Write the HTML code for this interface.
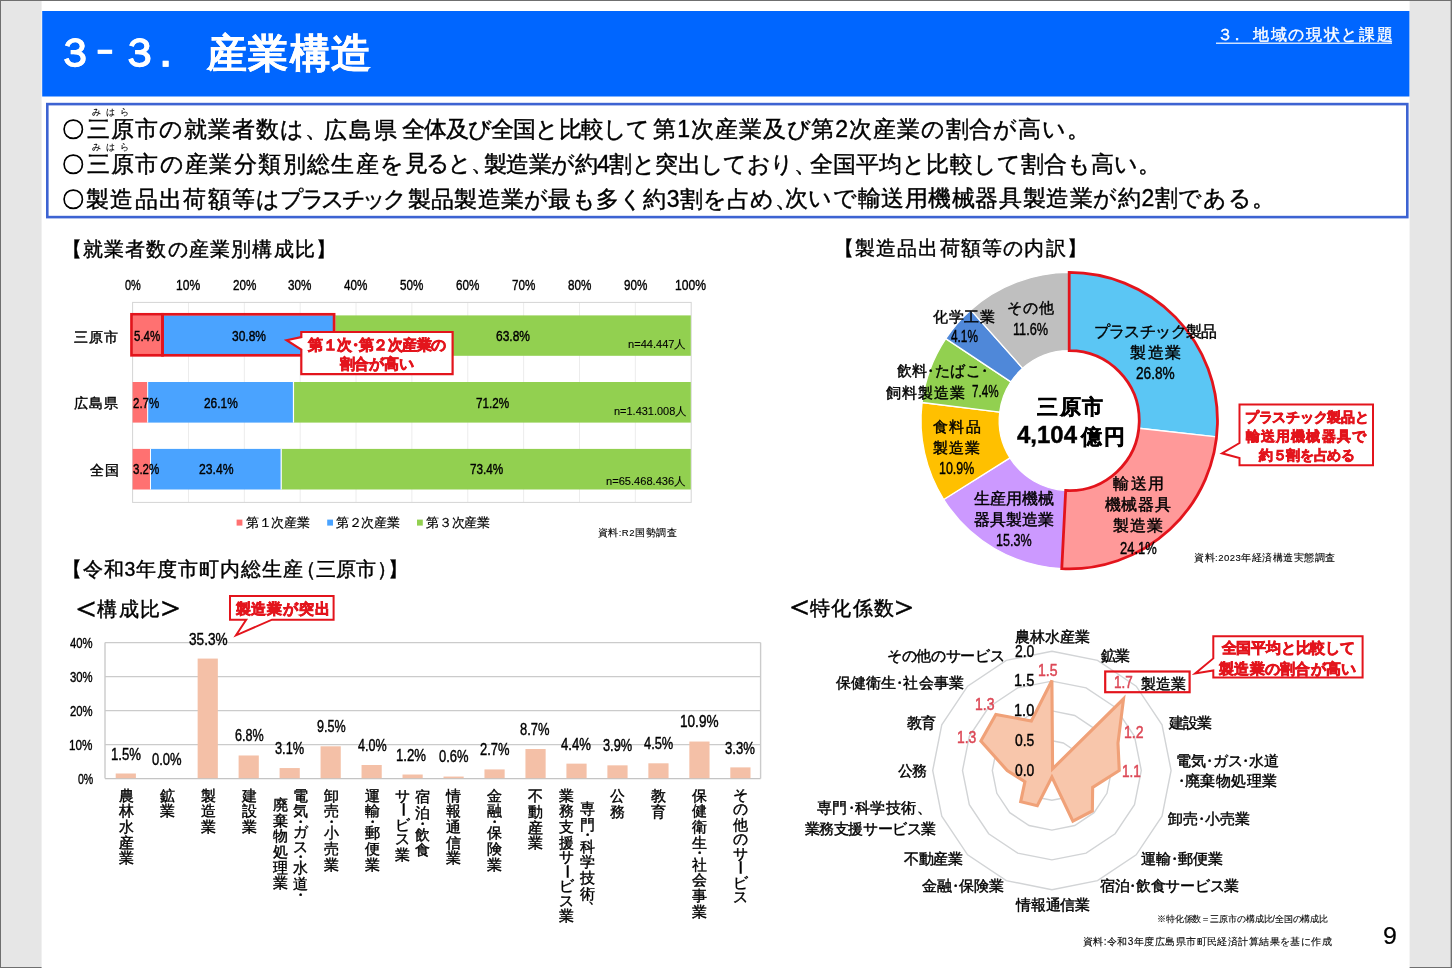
<!DOCTYPE html>
<html lang="ja"><head><meta charset="utf-8"><title>3-3. 産業構造</title>
<style>
html,body{margin:0;padding:0}
body{width:1452px;height:968px;overflow:hidden;background:#e6e6e6;position:relative;font-family:"Liberation Sans",sans-serif;color:#000}
#page{position:absolute;left:0;top:0;width:1452px;height:968px;overflow:hidden;will-change:transform}
svg{position:absolute;left:0;top:0}
.t{position:absolute;line-height:1;white-space:nowrap;transform-origin:0 0}
.v{position:absolute;text-align:center;line-height:1;-webkit-text-stroke:0.4px}
.v span{display:block;white-space:nowrap}
</style></head>
<body><div id="page">
<svg width="1452" height="968" viewBox="0 0 1452 968">
<rect x="0.00" y="0.00" width="1452.00" height="968.00" fill="#e6e6e6"/>
<rect x="0.00" y="0.00" width="1452.00" height="1.00" fill="#6f6f6f"/>
<rect x="0.00" y="0.00" width="1.00" height="968.00" fill="#6f6f6f"/>
<rect x="1450.60" y="0.00" width="1.40" height="968.00" fill="#6f6f6f"/>
<rect x="0.00" y="967.00" width="1452.00" height="1.00" fill="#6f6f6f"/>
<rect x="41.60" y="1.00" width="1368.00" height="967.00" fill="#ffffff"/>
<rect x="42.20" y="11.00" width="1367.20" height="85.50" fill="#0066ff"/>
<rect x="1216.00" y="42.60" width="176.00" height="1.20" fill="#ffffff"/>
<rect x="47.30" y="104.10" width="1360.00" height="113.00" fill="#ffffff" stroke="#3d63d2" stroke-width="2.6"/>
<line x1="188.46" y1="302.40" x2="188.46" y2="502.40" stroke="#ececec" stroke-width="1"/>
<line x1="244.32" y1="302.40" x2="244.32" y2="502.40" stroke="#ececec" stroke-width="1"/>
<line x1="300.18" y1="302.40" x2="300.18" y2="502.40" stroke="#ececec" stroke-width="1"/>
<line x1="356.04" y1="302.40" x2="356.04" y2="502.40" stroke="#ececec" stroke-width="1"/>
<line x1="411.90" y1="302.40" x2="411.90" y2="502.40" stroke="#ececec" stroke-width="1"/>
<line x1="467.76" y1="302.40" x2="467.76" y2="502.40" stroke="#ececec" stroke-width="1"/>
<line x1="523.62" y1="302.40" x2="523.62" y2="502.40" stroke="#ececec" stroke-width="1"/>
<line x1="579.48" y1="302.40" x2="579.48" y2="502.40" stroke="#ececec" stroke-width="1"/>
<line x1="635.34" y1="302.40" x2="635.34" y2="502.40" stroke="#ececec" stroke-width="1"/>
<rect x="132.60" y="302.40" width="558.60" height="200.00" fill="none" stroke="#d4d4d4" stroke-width="1"/>
<rect x="132.60" y="315.40" width="30.16" height="40.40" fill="#ff7171"/>
<rect x="162.76" y="315.40" width="172.05" height="40.40" fill="#4aa3ff"/>
<rect x="334.81" y="315.40" width="355.99" height="40.40" fill="#92d050"/>
<line x1="162.76" y1="315.40" x2="162.76" y2="355.80" stroke="#ffffff" stroke-width="1"/>
<line x1="334.81" y1="315.40" x2="334.81" y2="355.80" stroke="#ffffff" stroke-width="1.2"/>
<rect x="132.60" y="382.00" width="15.08" height="40.60" fill="#ff7171"/>
<rect x="147.68" y="382.00" width="145.79" height="40.60" fill="#4aa3ff"/>
<rect x="293.48" y="382.00" width="397.32" height="40.60" fill="#92d050"/>
<line x1="147.68" y1="382.00" x2="147.68" y2="422.60" stroke="#ffffff" stroke-width="1"/>
<line x1="293.48" y1="382.00" x2="293.48" y2="422.60" stroke="#ffffff" stroke-width="1.2"/>
<rect x="132.60" y="448.90" width="17.88" height="40.60" fill="#ff7171"/>
<rect x="150.48" y="448.90" width="130.71" height="40.60" fill="#4aa3ff"/>
<rect x="281.19" y="448.90" width="409.61" height="40.60" fill="#92d050"/>
<line x1="150.48" y1="448.90" x2="150.48" y2="489.50" stroke="#ffffff" stroke-width="1"/>
<line x1="281.19" y1="448.90" x2="281.19" y2="489.50" stroke="#ffffff" stroke-width="1.2"/>
<rect x="131.50" y="314.30" width="31.00" height="41.00" fill="none" stroke="#e3141c" stroke-width="2.7"/>
<rect x="162.50" y="314.30" width="171.60" height="41.00" fill="none" stroke="#e3141c" stroke-width="2.7"/>
<path d="M301.3 332.0 H452.6 V374.2 H301.3 V349.5 L286.6 340.3 L301.3 337 Z" fill="#ffffff" stroke="#e3141c" stroke-width="2.2" stroke-linejoin="miter"/>
<rect x="236.60" y="519.60" width="5.80" height="6.00" fill="#ff7171"/>
<rect x="327.20" y="519.60" width="5.80" height="6.00" fill="#4aa3ff"/>
<rect x="417.00" y="519.60" width="5.80" height="6.00" fill="#92d050"/>
<path d="M1069.20 272.40 A148.20 148.20 0 0 1 1216.51 436.83 L1138.78 428.27 A70.00 70.00 0 0 0 1069.20 350.60 Z" fill="#5bc6f4" stroke="#ffffff" stroke-width="1.3" stroke-linejoin="round"/>
<path d="M1216.51 436.83 A148.20 148.20 0 0 1 1061.77 568.61 L1065.69 490.51 A70.00 70.00 0 0 0 1138.78 428.27 Z" fill="#ff9999" stroke="#ffffff" stroke-width="1.3" stroke-linejoin="round"/>
<path d="M1061.77 568.61 A148.20 148.20 0 0 1 943.73 499.48 L1009.94 457.86 A70.00 70.00 0 0 0 1065.69 490.51 Z" fill="#cc99ff" stroke="#ffffff" stroke-width="1.3" stroke-linejoin="round"/>
<path d="M943.73 499.48 A148.20 148.20 0 0 1 922.11 402.52 L999.72 412.06 A70.00 70.00 0 0 0 1009.94 457.86 Z" fill="#ffc000" stroke="#ffffff" stroke-width="1.3" stroke-linejoin="round"/>
<path d="M922.11 402.52 A148.20 148.20 0 0 1 945.75 338.60 L1010.89 381.87 A70.00 70.00 0 0 0 999.72 412.06 Z" fill="#92d050" stroke="#ffffff" stroke-width="1.3" stroke-linejoin="round"/>
<path d="M945.75 338.60 A148.20 148.20 0 0 1 970.66 309.91 L1022.66 368.32 A70.00 70.00 0 0 0 1010.89 381.87 Z" fill="#4f88d9" stroke="#ffffff" stroke-width="1.3" stroke-linejoin="round"/>
<path d="M970.66 309.91 A148.20 148.20 0 0 1 1069.20 272.40 L1069.20 350.60 A70.00 70.00 0 0 0 1022.66 368.32 Z" fill="#bfbfbf" stroke="#ffffff" stroke-width="1.3" stroke-linejoin="round"/>
<path d="M1069.20 272.40 A148.20 148.20 0 1 1 1061.77 568.61 L1065.69 490.51 A70.00 70.00 0 1 0 1069.20 350.60 Z" fill="none" stroke="#e3141c" stroke-width="2.8" stroke-linejoin="miter"/>
<path d="M1239.5 404.6 H1373 V465.2 H1239.5 V458 L1222 453.3 L1239.5 443 Z" fill="#ffffff" stroke="#e3141c" stroke-width="2"/>
<line x1="105.00" y1="778.60" x2="760.60" y2="778.60" stroke="#c4c4c4" stroke-width="1.4"/>
<line x1="105.00" y1="744.60" x2="760.60" y2="744.60" stroke="#cbcbcb" stroke-width="1.4"/>
<line x1="105.00" y1="710.60" x2="760.60" y2="710.60" stroke="#cbcbcb" stroke-width="1.4"/>
<line x1="105.00" y1="676.60" x2="760.60" y2="676.60" stroke="#cbcbcb" stroke-width="1.4"/>
<line x1="105.00" y1="642.60" x2="760.60" y2="642.60" stroke="#cbcbcb" stroke-width="1.4"/>
<line x1="105.00" y1="642.60" x2="105.00" y2="778.60" stroke="#cbcbcb" stroke-width="1.4"/>
<line x1="760.60" y1="642.60" x2="760.60" y2="778.60" stroke="#cbcbcb" stroke-width="1.4"/>
<rect x="115.69" y="773.50" width="20.20" height="4.70" fill="#f4c0a7"/>
<rect x="197.64" y="658.58" width="20.20" height="119.62" fill="#f4c0a7"/>
<rect x="238.61" y="755.48" width="20.20" height="22.72" fill="#f4c0a7"/>
<rect x="279.59" y="768.06" width="20.20" height="10.14" fill="#f4c0a7"/>
<rect x="320.56" y="746.30" width="20.20" height="31.90" fill="#f4c0a7"/>
<rect x="361.54" y="765.00" width="20.20" height="13.20" fill="#f4c0a7"/>
<rect x="402.51" y="774.52" width="20.20" height="3.68" fill="#f4c0a7"/>
<rect x="443.49" y="776.56" width="20.20" height="1.64" fill="#f4c0a7"/>
<rect x="484.46" y="769.42" width="20.20" height="8.78" fill="#f4c0a7"/>
<rect x="525.44" y="749.02" width="20.20" height="29.18" fill="#f4c0a7"/>
<rect x="566.41" y="763.64" width="20.20" height="14.56" fill="#f4c0a7"/>
<rect x="607.39" y="765.34" width="20.20" height="12.86" fill="#f4c0a7"/>
<rect x="648.36" y="763.30" width="20.20" height="14.90" fill="#f4c0a7"/>
<rect x="689.34" y="741.54" width="20.20" height="36.66" fill="#f4c0a7"/>
<rect x="730.31" y="767.38" width="20.20" height="10.82" fill="#f4c0a7"/>
<path d="M230 596 H333.6 V619.7 H272 L236 635.3 L246.2 619.7 H230 Z" fill="#ffffff" stroke="#e3141c" stroke-width="2"/>
<polygon points="1051.90,740.70 1063.30,742.97 1072.97,749.43 1079.43,759.10 1081.70,770.50 1079.43,781.90 1072.97,791.57 1063.30,798.03 1051.90,800.30 1040.50,798.03 1030.83,791.57 1024.37,781.90 1022.10,770.50 1024.37,759.10 1030.83,749.43 1040.50,742.97" fill="none" stroke="#d2d4d6" stroke-width="1.4"/>
<polygon points="1051.90,710.90 1074.71,715.44 1094.04,728.36 1106.96,747.69 1111.50,770.50 1106.96,793.31 1094.04,812.64 1074.71,825.56 1051.90,830.10 1029.09,825.56 1009.76,812.64 996.84,793.31 992.30,770.50 996.84,747.69 1009.76,728.36 1029.09,715.44" fill="none" stroke="#d2d4d6" stroke-width="1.4"/>
<polygon points="1051.90,681.10 1086.11,687.91 1115.12,707.28 1134.49,736.29 1141.30,770.50 1134.49,804.71 1115.12,833.72 1086.11,853.09 1051.90,859.90 1017.69,853.09 988.68,833.72 969.31,804.71 962.50,770.50 969.31,736.29 988.68,707.28 1017.69,687.91" fill="none" stroke="#d2d4d6" stroke-width="1.4"/>
<polygon points="1051.90,651.30 1097.52,660.37 1136.19,686.21 1162.03,724.88 1171.10,770.50 1162.03,816.12 1136.19,854.79 1097.52,880.63 1051.90,889.70 1006.28,880.63 967.61,854.79 941.77,816.12 932.70,770.50 941.77,724.88 967.61,686.21 1006.28,660.37" fill="none" stroke="#d2d4d6" stroke-width="1.4"/>
<polygon points="1051.90,680.50 1052.58,768.85 1123.54,698.86 1117.98,743.13 1119.25,770.50 1092.65,787.38 1092.36,810.96 1072.88,821.16 1051.90,777.06 1037.30,805.74 1020.71,801.69 1024.92,781.68 1007.20,770.50 980.87,741.08 995.85,714.45 1031.37,720.94" fill="#f8c6ab" stroke="#f0a178" stroke-width="3.1" stroke-linejoin="miter"/>
<rect x="1105.20" y="671.50" width="84.40" height="20.70" fill="none" stroke="#e3141c" stroke-width="2.2"/>
<path d="M1213.3 636.2 H1362.6 V677.6 H1213.3 V670.4 L1195.2 673.4 L1213.3 658.4 Z" fill="#ffffff" stroke="#e3141c" stroke-width="2"/>
</svg>
<div class="t" style="left:55.71px;top:33.39px;font-size:39px;transform:scaleX(0.9739);color:#ffffff;font-weight:bold;-webkit-text-stroke:0.3px;">３</div>
<div class="t" style="left:89.87px;top:30.19px;font-size:39px;transform:scaleX(0.7632);color:#ffffff;font-weight:bold;-webkit-text-stroke:0.3px;">－</div>
<div class="t" style="left:120.00px;top:33.39px;font-size:39px;letter-spacing:-13.000px;color:#ffffff;font-weight:bold;-webkit-text-stroke:0.3px;">３．</div>
<div class="t" style="left:206.60px;top:32.94px;font-size:40px;letter-spacing:1.467px;color:#ffffff;font-weight:bold;-webkit-text-stroke:0.3px;">産業構造</div>
<div class="t" style="left:1216.70px;top:27.46px;font-size:16px;letter-spacing:-3.200px;color:#ffffff;-webkit-text-stroke:0.42px;">３．</div>
<div class="t" style="left:1253.00px;top:27.06px;font-size:16px;letter-spacing:1.671px;color:#ffffff;-webkit-text-stroke:0.42px;">地域の現状と課題</div>
<div class="t" style="left:86.60px;top:118.13px;font-size:23px;letter-spacing:1.022px;-webkit-text-stroke:0.42px;">三原市の就業者数は、</div>
<div class="t" style="left:324.20px;top:118.63px;font-size:23px;letter-spacing:2.000px;-webkit-text-stroke:0.42px;">広島県</div>
<div class="t" style="left:401.60px;top:117.63px;font-size:23px;letter-spacing:-0.860px;-webkit-text-stroke:0.42px;">全体及び全国と比較して</div>
<div class="t" style="left:653.40px;top:118.13px;font-size:23px;letter-spacing:0.890px;-webkit-text-stroke:0.42px;">第1次産業及び第2次産業の割合が高い。</div>
<div class="t" style="left:86.60px;top:152.83px;font-size:23px;letter-spacing:1.367px;-webkit-text-stroke:0.42px;">三原市の産業分類別総生産を</div>
<div class="t" style="left:404.80px;top:152.33px;font-size:23px;letter-spacing:-1.733px;-webkit-text-stroke:0.42px;">見ると、</div>
<div class="t" style="left:484.00px;top:152.83px;font-size:23px;letter-spacing:-0.578px;-webkit-text-stroke:0.42px;">製造業が約4割と突出しており、</div>
<div class="t" style="left:810.20px;top:152.83px;font-size:23px;letter-spacing:0.057px;-webkit-text-stroke:0.42px;">全国平均と比較して割合も高い。</div>
<div class="t" style="left:86.00px;top:187.53px;font-size:23px;letter-spacing:1.329px;-webkit-text-stroke:0.42px;">製造品出荷額等は</div>
<div class="t" style="left:280.00px;top:187.53px;font-size:23px;letter-spacing:-3.400px;-webkit-text-stroke:0.42px;">プラスチック</div>
<div class="t" style="left:408.00px;top:187.53px;font-size:23px;letter-spacing:0.244px;-webkit-text-stroke:0.42px;">製品製造業が最も多く約3割を占め、</div>
<div class="t" style="left:784.90px;top:187.03px;font-size:23px;letter-spacing:0.575px;-webkit-text-stroke:0.42px;">次いで輸送用機械器具製造業が約2割である。</div>
<div class="t" style="left:61.66px;top:119.26px;font-size:21.69px;-webkit-text-stroke:0.9px;">〇</div>
<div class="t" style="left:61.66px;top:153.96px;font-size:21.69px;-webkit-text-stroke:0.9px;">〇</div>
<div class="t" style="left:61.66px;top:188.66px;font-size:21.69px;-webkit-text-stroke:0.9px;">〇</div>
<div class="t" style="left:92.30px;top:108.10px;font-size:8.5px;letter-spacing:5.000px;-webkit-text-stroke:0.1px;">みはら</div>
<div class="t" style="left:92.30px;top:142.90px;font-size:8.5px;letter-spacing:5.000px;-webkit-text-stroke:0.1px;">みはら</div>
<div class="t" style="left:61.60px;top:240.09px;font-size:19.5px;letter-spacing:1.200px;-webkit-text-stroke:0.42px;">【就業者数の産業別構成比】</div>
<div class="t" style="left:833.50px;top:238.99px;font-size:19.5px;letter-spacing:1.209px;-webkit-text-stroke:0.42px;">【製造品出荷額等の内訳】</div>
<div class="t" style="left:61.60px;top:559.99px;font-size:19.5px;letter-spacing:0.960px;-webkit-text-stroke:0.42px;">【令和3年度市町内総生産</div>
<div class="t" style="left:295.80px;top:559.99px;font-size:19.5px;letter-spacing:0.200px;-webkit-text-stroke:0.42px;">（三原市）</div>
<div class="t" style="left:388.20px;top:560.49px;font-size:19.5px;-webkit-text-stroke:0.42px;">】</div>
<div class="t" style="left:69.40px;top:590.64px;font-size:33.6px;-webkit-text-stroke:0.42px;">＜</div>
<div class="t" style="left:97.10px;top:598.97px;font-size:20px;letter-spacing:1.500px;-webkit-text-stroke:0.42px;">構成比</div>
<div class="t" style="left:153.80px;top:591.07px;font-size:32.8px;-webkit-text-stroke:0.42px;">＞</div>
<div class="t" style="left:783.00px;top:590.47px;font-size:32.8px;-webkit-text-stroke:0.42px;">＜</div>
<div class="t" style="left:810.40px;top:598.37px;font-size:20px;letter-spacing:1.067px;-webkit-text-stroke:0.42px;">特化係数</div>
<div class="t" style="left:888.45px;top:591.02px;font-size:31.8px;-webkit-text-stroke:0.42px;">＞</div>
<div class="t" style="left:124.60px;top:276.63px;font-size:15.5px;transform:scaleX(0.7073);-webkit-text-stroke:0.42px;">0%</div>
<div class="t" style="left:175.93px;top:276.63px;font-size:15.5px;transform:scaleX(0.7771);-webkit-text-stroke:0.42px;">10%</div>
<div class="t" style="left:232.57px;top:276.63px;font-size:15.5px;transform:scaleX(0.7522);-webkit-text-stroke:0.42px;">20%</div>
<div class="t" style="left:288.43px;top:276.63px;font-size:15.5px;transform:scaleX(0.7522);-webkit-text-stroke:0.42px;">30%</div>
<div class="t" style="left:344.29px;top:276.63px;font-size:15.5px;transform:scaleX(0.7522);-webkit-text-stroke:0.42px;">40%</div>
<div class="t" style="left:400.15px;top:276.63px;font-size:15.5px;transform:scaleX(0.7522);-webkit-text-stroke:0.42px;">50%</div>
<div class="t" style="left:456.01px;top:276.63px;font-size:15.5px;transform:scaleX(0.7522);-webkit-text-stroke:0.42px;">60%</div>
<div class="t" style="left:511.87px;top:276.63px;font-size:15.5px;transform:scaleX(0.7522);-webkit-text-stroke:0.42px;">70%</div>
<div class="t" style="left:567.73px;top:276.63px;font-size:15.5px;transform:scaleX(0.7522);-webkit-text-stroke:0.42px;">80%</div>
<div class="t" style="left:623.59px;top:276.63px;font-size:15.5px;transform:scaleX(0.7522);-webkit-text-stroke:0.42px;">90%</div>
<div class="t" style="left:675.22px;top:276.63px;font-size:15.5px;transform:scaleX(0.7823);-webkit-text-stroke:0.42px;">100%</div>
<div class="t" style="left:74.30px;top:330.15px;font-size:14px;letter-spacing:0.950px;-webkit-text-stroke:0.42px;">三原市</div>
<div class="t" style="left:74.30px;top:395.95px;font-size:14px;letter-spacing:0.950px;-webkit-text-stroke:0.42px;">広島県</div>
<div class="t" style="left:89.70px;top:462.75px;font-size:14px;letter-spacing:1.500px;-webkit-text-stroke:0.42px;">全国</div>
<div class="t" style="left:134.30px;top:328.30px;font-size:15px;transform:scaleX(0.7680);-webkit-text-stroke:0.42px;">5.4%</div>
<div class="t" style="left:232.00px;top:328.30px;font-size:15px;transform:scaleX(0.7987);-webkit-text-stroke:0.42px;">30.8%</div>
<div class="t" style="left:496.30px;top:328.30px;font-size:15px;transform:scaleX(0.7987);-webkit-text-stroke:0.42px;">63.8%</div>
<div class="t" style="left:133.00px;top:394.80px;font-size:15px;transform:scaleX(0.7680);-webkit-text-stroke:0.42px;">2.7%</div>
<div class="t" style="left:203.70px;top:394.80px;font-size:15px;transform:scaleX(0.7939);-webkit-text-stroke:0.42px;">26.1%</div>
<div class="t" style="left:476.00px;top:394.80px;font-size:15px;transform:scaleX(0.7821);-webkit-text-stroke:0.42px;">71.2%</div>
<div class="t" style="left:133.00px;top:461.30px;font-size:15px;transform:scaleX(0.7680);-webkit-text-stroke:0.42px;">3.2%</div>
<div class="t" style="left:198.80px;top:461.30px;font-size:15px;transform:scaleX(0.8105);-webkit-text-stroke:0.42px;">23.4%</div>
<div class="t" style="left:470.00px;top:461.30px;font-size:15px;transform:scaleX(0.7821);-webkit-text-stroke:0.42px;">73.4%</div>
<div class="t" style="left:627.70px;top:338.81px;font-size:10.5px;transform:scaleX(1.0547);-webkit-text-stroke:0.1px;">n=44.447人</div>
<div class="t" style="left:613.80px;top:405.61px;font-size:10.5px;transform:scaleX(1.0433);-webkit-text-stroke:0.1px;">n=1.431.008人</div>
<div class="t" style="left:606.00px;top:475.71px;font-size:10.5px;transform:scaleX(1.0566);-webkit-text-stroke:0.1px;">n=65.468.436人</div>
<div class="t" style="left:245.90px;top:517.32px;font-size:12.5px;letter-spacing:-0.250px;-webkit-text-stroke:0.2px;">第１次産業</div>
<div class="t" style="left:335.90px;top:517.32px;font-size:12.5px;letter-spacing:-0.325px;-webkit-text-stroke:0.2px;">第２次産業</div>
<div class="t" style="left:426.00px;top:517.32px;font-size:12.5px;letter-spacing:-0.250px;-webkit-text-stroke:0.2px;">第３次産業</div>
<div class="t" style="left:597.70px;top:528.26px;font-size:9.5px;letter-spacing:0.515px;-webkit-text-stroke:0.1px;">資料:R2国勢調査</div>
<div class="t" style="left:308.20px;top:338.03px;font-size:14.5px;letter-spacing:-0.452px;color:#e3141c;font-weight:bold;-webkit-text-stroke:0.7px;">第１次<span style="margin:0 -0.27em 0 -0.27em">・</span>第２次産業の</div>
<div class="t" style="left:339.50px;top:356.58px;font-size:14.5px;letter-spacing:-0.125px;color:#e3141c;font-weight:bold;-webkit-text-stroke:0.7px;">割合が高い</div>
<div class="t" style="left:1093.70px;top:323.78px;font-size:15.5px;letter-spacing:-0.614px;-webkit-text-stroke:0.42px;">プラスチック製品</div>
<div class="t" style="left:1130.30px;top:344.76px;font-size:16px;letter-spacing:1.500px;-webkit-text-stroke:0.42px;">製造業</div>
<div class="t" style="left:1136.00px;top:365.43px;font-size:16.5px;transform:scaleX(0.8278);-webkit-text-stroke:0.42px;">26.8%</div>
<div class="t" style="left:1113.40px;top:476.01px;font-size:16px;letter-spacing:1.500px;-webkit-text-stroke:0.42px;">輸送用</div>
<div class="t" style="left:1104.50px;top:497.16px;font-size:16px;letter-spacing:0.767px;-webkit-text-stroke:0.42px;">機械器具</div>
<div class="t" style="left:1113.40px;top:518.26px;font-size:16px;letter-spacing:1.000px;-webkit-text-stroke:0.42px;">製造業</div>
<div class="t" style="left:1120.00px;top:539.93px;font-size:16.5px;transform:scaleX(0.7853);-webkit-text-stroke:0.42px;">24.1%</div>
<div class="t" style="left:974.30px;top:491.33px;font-size:15.5px;letter-spacing:-0.100px;-webkit-text-stroke:0.42px;">生産用機械</div>
<div class="t" style="left:974.30px;top:511.58px;font-size:15.5px;letter-spacing:-0.100px;-webkit-text-stroke:0.42px;">器具製造業</div>
<div class="t" style="left:996.22px;top:533.36px;font-size:16px;transform:scaleX(0.7839);-webkit-text-stroke:0.42px;">15.3%</div>
<div class="t" style="left:933.00px;top:419.00px;font-size:15px;letter-spacing:1.250px;-webkit-text-stroke:0.42px;">食料品</div>
<div class="t" style="left:933.00px;top:439.60px;font-size:15px;letter-spacing:0.750px;-webkit-text-stroke:0.42px;">製造業</div>
<div class="t" style="left:939.03px;top:461.41px;font-size:16px;transform:scaleX(0.7748);-webkit-text-stroke:0.42px;">10.9%</div>
<div class="t" style="left:896.50px;top:362.80px;font-size:15px;letter-spacing:0.442px;-webkit-text-stroke:0.42px;">飲料<span style="margin:0 -0.27em 0 -0.27em">・</span>たばこ<span style="margin:0 0.00em 0 -0.27em">・</span></div>
<div class="t" style="left:885.80px;top:384.50px;font-size:15px;letter-spacing:1.125px;-webkit-text-stroke:0.42px;">飼料製造業</div>
<div class="t" style="left:972.00px;top:384.36px;font-size:16px;transform:scaleX(0.7284);-webkit-text-stroke:0.42px;">7.4%</div>
<div class="t" style="left:932.90px;top:308.80px;font-size:15px;letter-spacing:0.800px;-webkit-text-stroke:0.42px;">化学工業</div>
<div class="t" style="left:950.90px;top:329.16px;font-size:16px;transform:scaleX(0.7395);-webkit-text-stroke:0.42px;">4.1%</div>
<div class="t" style="left:1007.00px;top:300.30px;font-size:15px;letter-spacing:0.900px;-webkit-text-stroke:0.42px;">その他</div>
<div class="t" style="left:1013.11px;top:321.96px;font-size:16px;transform:scaleX(0.7939);-webkit-text-stroke:0.42px;">11.6%</div>
<div class="t" style="left:1037.00px;top:395.72px;font-size:21px;letter-spacing:1.500px;font-weight:bold;-webkit-text-stroke:0.4px;">三原市</div>
<div class="t" style="left:1017.00px;top:423.53px;font-size:23px;transform:scaleX(1.0422);font-weight:bold;-webkit-text-stroke:0.4px;">4,104</div>
<div class="t" style="left:1080.70px;top:425.72px;font-size:21px;letter-spacing:2.300px;font-weight:bold;-webkit-text-stroke:0.42px;">億円</div>
<div class="t" style="left:1194.00px;top:552.91px;font-size:9.5px;letter-spacing:0.502px;-webkit-text-stroke:0.1px;">資料:2023年経済構造実態調査</div>
<div class="t" style="left:1245.00px;top:411.07px;font-size:13.5px;letter-spacing:-0.275px;color:#e3141c;font-weight:bold;-webkit-text-stroke:0.7px;">プラスチック製品と</div>
<div class="t" style="left:1246.00px;top:430.47px;font-size:13.5px;letter-spacing:1.114px;color:#e3141c;font-weight:bold;-webkit-text-stroke:0.7px;">輸送用機械器具で</div>
<div class="t" style="left:1258.90px;top:449.37px;font-size:13.5px;letter-spacing:-0.317px;color:#e3141c;font-weight:bold;-webkit-text-stroke:0.7px;">約５割を占める</div>
<div class="t" style="left:77.60px;top:771.18px;font-size:15.5px;transform:scaleX(0.6808);-webkit-text-stroke:0.42px;">0%</div>
<div class="t" style="left:69.45px;top:737.18px;font-size:15.5px;transform:scaleX(0.7540);-webkit-text-stroke:0.42px;">10%</div>
<div class="t" style="left:70.20px;top:703.18px;font-size:15.5px;transform:scaleX(0.7298);-webkit-text-stroke:0.42px;">20%</div>
<div class="t" style="left:70.20px;top:669.18px;font-size:15.5px;transform:scaleX(0.7298);-webkit-text-stroke:0.42px;">30%</div>
<div class="t" style="left:70.20px;top:635.18px;font-size:15.5px;transform:scaleX(0.7298);-webkit-text-stroke:0.42px;">40%</div>
<div class="t" style="left:110.68px;top:746.51px;font-size:16px;transform:scaleX(0.8229);-webkit-text-stroke:0.42px;">1.5%</div>
<div class="t" style="left:152.00px;top:751.91px;font-size:16px;transform:scaleX(0.8112);-webkit-text-stroke:0.42px;">0.0%</div>
<div class="t" style="left:188.90px;top:631.91px;font-size:16px;transform:scaleX(0.8507);-webkit-text-stroke:0.42px;">35.3%</div>
<div class="t" style="left:234.70px;top:728.01px;font-size:16px;transform:scaleX(0.7864);-webkit-text-stroke:0.42px;">6.8%</div>
<div class="t" style="left:275.00px;top:741.26px;font-size:16px;transform:scaleX(0.8002);-webkit-text-stroke:0.42px;">3.1%</div>
<div class="t" style="left:316.50px;top:719.21px;font-size:16px;transform:scaleX(0.7864);-webkit-text-stroke:0.42px;">9.5%</div>
<div class="t" style="left:357.50px;top:737.61px;font-size:16px;transform:scaleX(0.7864);-webkit-text-stroke:0.42px;">4.0%</div>
<div class="t" style="left:396.48px;top:748.01px;font-size:16px;transform:scaleX(0.8229);-webkit-text-stroke:0.42px;">1.2%</div>
<div class="t" style="left:438.60px;top:749.31px;font-size:16px;transform:scaleX(0.8085);-webkit-text-stroke:0.42px;">0.6%</div>
<div class="t" style="left:479.50px;top:742.46px;font-size:16px;transform:scaleX(0.8085);-webkit-text-stroke:0.42px;">2.7%</div>
<div class="t" style="left:520.40px;top:722.21px;font-size:16px;transform:scaleX(0.8085);-webkit-text-stroke:0.42px;">8.7%</div>
<div class="t" style="left:561.30px;top:736.61px;font-size:16px;transform:scaleX(0.8195);-webkit-text-stroke:0.42px;">4.4%</div>
<div class="t" style="left:603.00px;top:738.26px;font-size:16px;transform:scaleX(0.8002);-webkit-text-stroke:0.42px;">3.9%</div>
<div class="t" style="left:643.90px;top:736.21px;font-size:16px;transform:scaleX(0.8029);-webkit-text-stroke:0.42px;">4.5%</div>
<div class="t" style="left:679.95px;top:714.21px;font-size:16px;transform:scaleX(0.8496);-webkit-text-stroke:0.42px;">10.9%</div>
<div class="t" style="left:725.00px;top:740.91px;font-size:16px;transform:scaleX(0.8195);-webkit-text-stroke:0.42px;">3.3%</div>
<div class="t" style="left:235.70px;top:602.08px;font-size:14.5px;letter-spacing:0.800px;color:#e3141c;font-weight:bold;-webkit-text-stroke:0.7px;">製造業が突出</div>
<div class="t" style="left:1014.90px;top:629.15px;font-size:15px;letter-spacing:0.100px;-webkit-text-stroke:0.42px;">農林水産業</div>
<div class="t" style="left:1101.00px;top:648.20px;font-size:15px;letter-spacing:-1.100px;-webkit-text-stroke:0.42px;">鉱業</div>
<div class="t" style="left:1140.90px;top:675.55px;font-size:15px;letter-spacing:0.000px;-webkit-text-stroke:0.42px;">製造業</div>
<div class="t" style="left:1168.80px;top:715.40px;font-size:15px;letter-spacing:-0.750px;-webkit-text-stroke:0.42px;">建設業</div>
<div class="t" style="left:1176.20px;top:753.30px;font-size:15px;letter-spacing:-0.143px;-webkit-text-stroke:0.42px;">電気<span style="margin:0 -0.27em 0 -0.27em">・</span>ガス<span style="margin:0 -0.27em 0 -0.27em">・</span>水道</div>
<div class="t" style="left:1173.50px;top:773.20px;font-size:15px;letter-spacing:0.458px;-webkit-text-stroke:0.42px;"><span style="margin:0 -0.27em 0 0.00em">・</span>廃棄物処理業</div>
<div class="t" style="left:1167.90px;top:810.85px;font-size:15px;letter-spacing:0.100px;-webkit-text-stroke:0.42px;">卸売<span style="margin:0 -0.27em 0 -0.27em">・</span>小売業</div>
<div class="t" style="left:1141.00px;top:851.05px;font-size:15px;letter-spacing:0.100px;-webkit-text-stroke:0.42px;">運輸<span style="margin:0 -0.27em 0 -0.27em">・</span>郵便業</div>
<div class="t" style="left:1100.00px;top:877.70px;font-size:15px;letter-spacing:-0.289px;-webkit-text-stroke:0.42px;">宿泊<span style="margin:0 -0.27em 0 -0.27em">・</span>飲食サービス業</div>
<div class="t" style="left:1015.90px;top:897.40px;font-size:15px;letter-spacing:-0.150px;-webkit-text-stroke:0.42px;">情報通信業</div>
<div class="t" style="left:922.20px;top:878.20px;font-size:15px;letter-spacing:0.060px;-webkit-text-stroke:0.42px;">金融<span style="margin:0 -0.27em 0 -0.27em">・</span>保険業</div>
<div class="t" style="left:903.70px;top:850.75px;font-size:15px;letter-spacing:-0.100px;-webkit-text-stroke:0.42px;">不動産業</div>
<div class="t" style="left:816.80px;top:800.35px;font-size:15px;letter-spacing:0.429px;-webkit-text-stroke:0.42px;">専門<span style="margin:0 -0.27em 0 -0.27em">・</span>科学技術、</div>
<div class="t" style="left:804.60px;top:820.55px;font-size:15px;letter-spacing:-0.400px;-webkit-text-stroke:0.42px;">業務支援サービス業</div>
<div class="t" style="left:898.30px;top:762.65px;font-size:15px;letter-spacing:-1.300px;-webkit-text-stroke:0.42px;">公務</div>
<div class="t" style="left:907.20px;top:715.30px;font-size:15px;letter-spacing:-1.500px;-webkit-text-stroke:0.42px;">教育</div>
<div class="t" style="left:835.70px;top:674.80px;font-size:15px;letter-spacing:0.150px;-webkit-text-stroke:0.42px;">保健衛生<span style="margin:0 -0.27em 0 -0.27em">・</span>社会事業</div>
<div class="t" style="left:887.20px;top:647.60px;font-size:15px;letter-spacing:-0.357px;-webkit-text-stroke:0.42px;">その他のサービス</div>
<div class="t" style="left:1014.90px;top:643.76px;font-size:16px;transform:scaleX(0.8683);-webkit-text-stroke:0.42px;">2.0</div>
<div class="t" style="left:1013.99px;top:673.16px;font-size:16px;transform:scaleX(0.9089);-webkit-text-stroke:0.42px;">1.5</div>
<div class="t" style="left:1013.99px;top:703.36px;font-size:16px;transform:scaleX(0.9089);-webkit-text-stroke:0.42px;">1.0</div>
<div class="t" style="left:1014.90px;top:732.86px;font-size:16px;transform:scaleX(0.8683);-webkit-text-stroke:0.42px;">0.5</div>
<div class="t" style="left:1014.90px;top:762.86px;font-size:16px;transform:scaleX(0.8683);-webkit-text-stroke:0.42px;">0.0</div>
<div class="t" style="left:1113.86px;top:674.56px;font-size:16px;transform:scaleX(0.8433);color:#dc4856;-webkit-text-stroke:0.5px;">1.7</div>
<div class="t" style="left:1037.92px;top:662.96px;font-size:16px;transform:scaleX(0.8761);color:#dc4856;-webkit-text-stroke:0.5px;">1.5</div>
<div class="t" style="left:975.42px;top:696.66px;font-size:16px;transform:scaleX(0.8761);color:#dc4856;-webkit-text-stroke:0.5px;">1.3</div>
<div class="t" style="left:957.13px;top:730.06px;font-size:16px;transform:scaleX(0.8668);color:#dc4856;-webkit-text-stroke:0.5px;">1.3</div>
<div class="t" style="left:1123.62px;top:724.66px;font-size:16px;transform:scaleX(0.8761);color:#dc4856;-webkit-text-stroke:0.5px;">1.2</div>
<div class="t" style="left:1122.45px;top:763.86px;font-size:16px;transform:scaleX(0.8480);color:#dc4856;-webkit-text-stroke:0.5px;">1.1</div>
<div class="t" style="left:1221.50px;top:641.38px;font-size:14.5px;letter-spacing:-0.188px;color:#e3141c;font-weight:bold;-webkit-text-stroke:0.7px;">全国平均と比較して</div>
<div class="t" style="left:1219.20px;top:661.83px;font-size:14.5px;letter-spacing:0.262px;color:#e3141c;font-weight:bold;-webkit-text-stroke:0.7px;">製造業の割合が高い</div>
<div class="t" style="left:1156.80px;top:915.40px;font-size:8.5px;letter-spacing:-0.098px;-webkit-text-stroke:0.1px;">※特化係数＝三原市の構成比/全国の構成比</div>
<div class="t" style="left:1082.90px;top:937.08px;font-size:10px;letter-spacing:0.440px;-webkit-text-stroke:0.1px;">資料:令和3年度広島県市町民経済計算結果を基に作成</div>
<div class="t" style="left:1382.78px;top:924.16px;font-size:24.5px;transform:scaleX(1.0167);-webkit-text-stroke:0.2px;">9</div>
<div class="v" style="left:117.00px;top:787.55px;width:18.00px;font-size:15px"><span style="height:15.70px;line-height:15.70px">農</span><span style="height:15.70px;line-height:15.70px">林</span><span style="height:15.70px;line-height:15.70px">水</span><span style="height:15.70px;line-height:15.70px">産</span><span style="height:15.70px;line-height:15.70px">業</span></div>
<div class="v" style="left:158.40px;top:787.55px;width:18.00px;font-size:15px"><span style="height:15.70px;line-height:15.70px">鉱</span><span style="height:15.70px;line-height:15.70px">業</span></div>
<div class="v" style="left:199.20px;top:787.55px;width:18.00px;font-size:15px"><span style="height:15.70px;line-height:15.70px">製</span><span style="height:15.70px;line-height:15.70px">造</span><span style="height:15.70px;line-height:15.70px">業</span></div>
<div class="v" style="left:240.30px;top:787.55px;width:18.00px;font-size:15px"><span style="height:15.70px;line-height:15.70px">建</span><span style="height:15.70px;line-height:15.70px">設</span><span style="height:15.70px;line-height:15.70px">業</span></div>
<div class="v" style="left:291.00px;top:787.55px;width:18.00px;font-size:15px"><span style="height:15.70px;line-height:15.70px">電</span><span style="height:15.70px;line-height:15.70px">気</span><span style="height:6.28px;line-height:6.28px">・</span><span style="height:14.52px;line-height:14.52px">ガ</span><span style="height:14.52px;line-height:14.52px">ス</span><span style="height:6.28px;line-height:6.28px">・</span><span style="height:15.70px;line-height:15.70px">水</span><span style="height:15.70px;line-height:15.70px">道</span><span style="height:6.28px;line-height:6.28px">・</span></div>
<div class="v" style="left:271.00px;top:796.95px;width:18.00px;font-size:15px"><span style="height:15.70px;line-height:15.70px">廃</span><span style="height:15.70px;line-height:15.70px">棄</span><span style="height:15.70px;line-height:15.70px">物</span><span style="height:15.70px;line-height:15.70px">処</span><span style="height:15.70px;line-height:15.70px">理</span><span style="height:15.70px;line-height:15.70px">業</span></div>
<div class="v" style="left:322.00px;top:787.55px;width:18.00px;font-size:15px"><span style="height:15.70px;line-height:15.70px">卸</span><span style="height:15.70px;line-height:15.70px">売</span><span style="height:6.28px;line-height:6.28px">・</span><span style="height:15.70px;line-height:15.70px">小</span><span style="height:15.70px;line-height:15.70px">売</span><span style="height:15.70px;line-height:15.70px">業</span></div>
<div class="v" style="left:363.00px;top:787.55px;width:18.00px;font-size:15px"><span style="height:15.70px;line-height:15.70px">運</span><span style="height:15.70px;line-height:15.70px">輸</span><span style="height:6.28px;line-height:6.28px">・</span><span style="height:15.70px;line-height:15.70px">郵</span><span style="height:15.70px;line-height:15.70px">便</span><span style="height:15.70px;line-height:15.70px">業</span></div>
<div class="v" style="left:413.80px;top:789.15px;width:18.00px;font-size:15px"><span style="height:15.70px;line-height:15.70px">宿</span><span style="height:15.70px;line-height:15.70px">泊</span><span style="height:6.28px;line-height:6.28px">・</span><span style="height:15.70px;line-height:15.70px">飲</span><span style="height:15.70px;line-height:15.70px">食</span></div>
<div class="v" style="left:393.70px;top:788.75px;width:18.00px;font-size:15px"><span style="height:14.52px;line-height:14.52px">サ</span><span style="height:14.52px;line-height:14.52px;transform:rotate(90deg) translateX(-1px)">ー</span><span style="height:14.52px;line-height:14.52px">ビ</span><span style="height:14.52px;line-height:14.52px">ス</span><span style="height:15.70px;line-height:15.70px">業</span></div>
<div class="v" style="left:444.70px;top:787.55px;width:18.00px;font-size:15px"><span style="height:15.70px;line-height:15.70px">情</span><span style="height:15.70px;line-height:15.70px">報</span><span style="height:15.70px;line-height:15.70px">通</span><span style="height:15.70px;line-height:15.70px">信</span><span style="height:15.70px;line-height:15.70px">業</span></div>
<div class="v" style="left:485.60px;top:787.55px;width:18.00px;font-size:15px"><span style="height:15.70px;line-height:15.70px">金</span><span style="height:15.70px;line-height:15.70px">融</span><span style="height:6.28px;line-height:6.28px">・</span><span style="height:15.70px;line-height:15.70px">保</span><span style="height:15.70px;line-height:15.70px">険</span><span style="height:15.70px;line-height:15.70px">業</span></div>
<div class="v" style="left:526.50px;top:788.15px;width:18.00px;font-size:15px"><span style="height:15.70px;line-height:15.70px">不</span><span style="height:15.70px;line-height:15.70px">動</span><span style="height:15.70px;line-height:15.70px">産</span><span style="height:15.70px;line-height:15.70px">業</span></div>
<div class="v" style="left:578.40px;top:800.95px;width:18.00px;font-size:15px"><span style="height:15.70px;line-height:15.70px">専</span><span style="height:15.70px;line-height:15.70px">門</span><span style="height:6.28px;line-height:6.28px">・</span><span style="height:15.70px;line-height:15.70px">科</span><span style="height:15.70px;line-height:15.70px">学</span><span style="height:15.70px;line-height:15.70px">技</span><span style="height:15.70px;line-height:15.70px">術</span><span style="height:9.42px;line-height:9.42px;transform:translate(8.2px,-8.2px)">、</span></div>
<div class="v" style="left:557.50px;top:787.55px;width:18.00px;font-size:15px"><span style="height:15.70px;line-height:15.70px">業</span><span style="height:15.70px;line-height:15.70px">務</span><span style="height:15.70px;line-height:15.70px">支</span><span style="height:15.70px;line-height:15.70px">援</span><span style="height:14.52px;line-height:14.52px">サ</span><span style="height:14.52px;line-height:14.52px;transform:rotate(90deg) translateX(-1px)">ー</span><span style="height:14.52px;line-height:14.52px">ビ</span><span style="height:14.52px;line-height:14.52px">ス</span><span style="height:15.70px;line-height:15.70px">業</span></div>
<div class="v" style="left:608.50px;top:788.15px;width:18.00px;font-size:15px"><span style="height:15.70px;line-height:15.70px">公</span><span style="height:15.70px;line-height:15.70px">務</span></div>
<div class="v" style="left:649.30px;top:788.15px;width:18.00px;font-size:15px"><span style="height:15.70px;line-height:15.70px">教</span><span style="height:15.70px;line-height:15.70px">育</span></div>
<div class="v" style="left:690.50px;top:787.55px;width:18.00px;font-size:15px"><span style="height:15.70px;line-height:15.70px">保</span><span style="height:15.70px;line-height:15.70px">健</span><span style="height:15.70px;line-height:15.70px">衛</span><span style="height:15.70px;line-height:15.70px">生</span><span style="height:6.28px;line-height:6.28px">・</span><span style="height:15.70px;line-height:15.70px">社</span><span style="height:15.70px;line-height:15.70px">会</span><span style="height:15.70px;line-height:15.70px">事</span><span style="height:15.70px;line-height:15.70px">業</span></div>
<div class="v" style="left:731.20px;top:787.55px;width:18.00px;font-size:15px"><span style="height:14.52px;line-height:14.52px">そ</span><span style="height:14.52px;line-height:14.52px">の</span><span style="height:15.70px;line-height:15.70px">他</span><span style="height:14.52px;line-height:14.52px">の</span><span style="height:14.52px;line-height:14.52px">サ</span><span style="height:14.52px;line-height:14.52px;transform:rotate(90deg) translateX(-1px)">ー</span><span style="height:14.52px;line-height:14.52px">ビ</span><span style="height:14.52px;line-height:14.52px">ス</span></div>
</div></body></html>
